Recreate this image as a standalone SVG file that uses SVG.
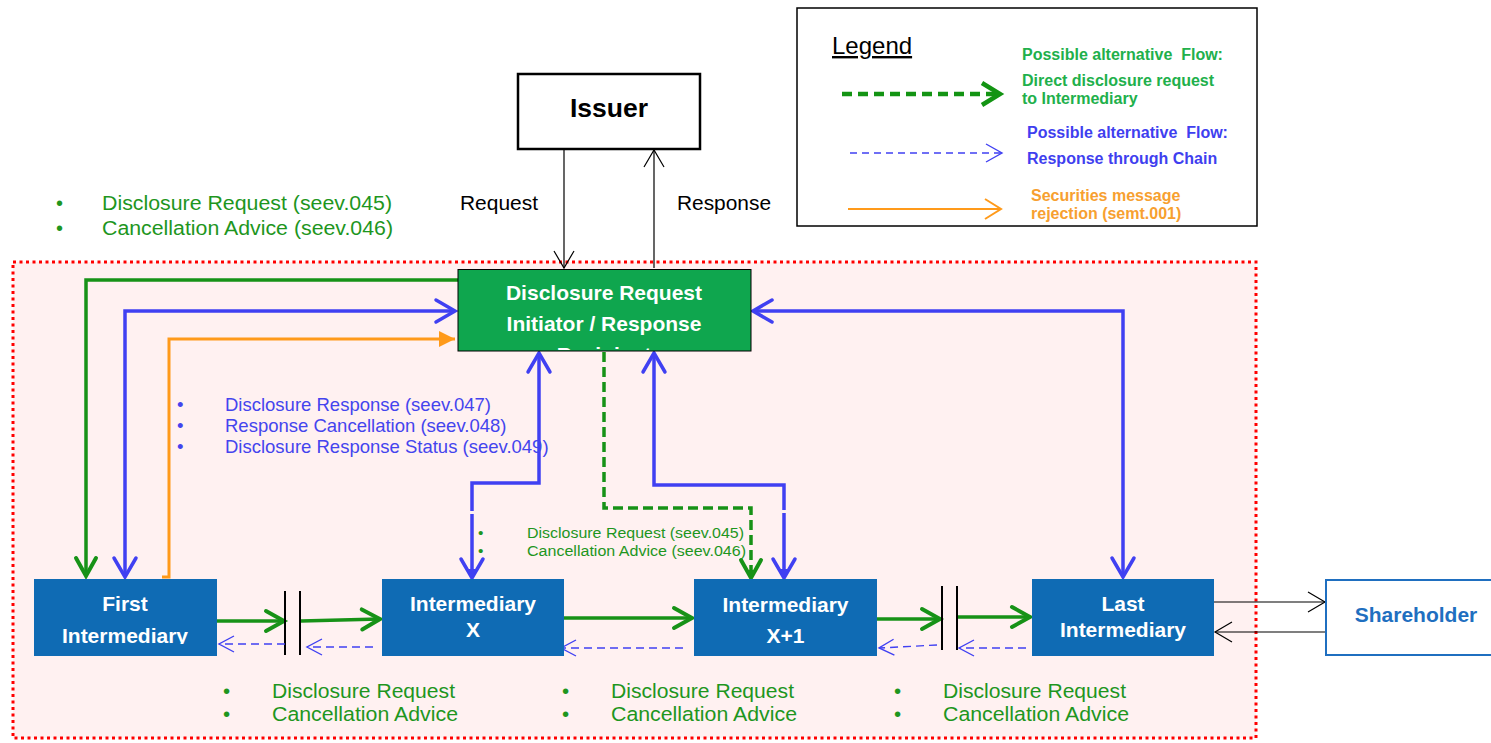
<svg xmlns="http://www.w3.org/2000/svg" width="1491" height="743" viewBox="0 0 1491 743">
<style>
text{font-family:"Liberation Sans",Arial,sans-serif}
.b{font-weight:bold}
.wt{fill:#ffffff;font-weight:bold;font-size:21px;text-anchor:middle}
.gt{fill:#1E961E}
.bt{fill:#4444EE}
.box{fill:#0F6BB4}
.gs{fill:none;stroke:#179217;stroke-width:3.5}
.bs{fill:none;stroke:#4040F2;stroke-width:3.5}
.bd{fill:none;stroke:#4040F2;stroke-width:1.4;stroke-dasharray:8 5}
.ks{fill:none;stroke:#000;stroke-width:1.2}
.bar{fill:none;stroke:#000;stroke-width:2}
</style>
<defs>
<marker id="mG" markerUnits="userSpaceOnUse" markerWidth="1" markerHeight="1" refX="0" refY="0" orient="auto" overflow="visible"><path d="M-18,-10 L0,0 L-18,10" fill="none" stroke="#179217" stroke-width="4" stroke-linecap="round"/></marker>
<marker id="mGT" markerUnits="userSpaceOnUse" markerWidth="1" markerHeight="1" refX="0" refY="0" orient="auto" overflow="visible"><path d="M-18,-10 L0,0 L-18,10" fill="none" stroke="#179217" stroke-width="4" stroke-dasharray="none" stroke-linecap="round"/><path d="M0,0 L-8,-6 L-8,6 Z" fill="#179217"/></marker>
<marker id="mB" markerUnits="userSpaceOnUse" markerWidth="1" markerHeight="1" refX="0" refY="0" orient="auto-start-reverse" overflow="visible"><path d="M-19,-11 L0,0 L-19,11" fill="none" stroke="#4040F2" stroke-width="3.5" stroke-linecap="round"/></marker>
<marker id="mBT" markerUnits="userSpaceOnUse" markerWidth="1" markerHeight="1" refX="0" refY="0" orient="auto-start-reverse" overflow="visible"><path d="M-19,-11 L0,0 L-19,11" fill="none" stroke="#4040F2" stroke-width="3.5" stroke-linecap="round"/><path d="M0,0 L-9,-6 L-9,6 Z" fill="#4040F2"/></marker>
<marker id="mO" markerUnits="userSpaceOnUse" markerWidth="1" markerHeight="1" refX="0" refY="0" orient="auto" overflow="visible"><path d="M0,0 L-16,-8 L-16,8 Z" fill="#FF9A1A"/></marker>
<marker id="mBd" markerUnits="userSpaceOnUse" markerWidth="1" markerHeight="1" refX="0" refY="0" orient="auto" overflow="visible"><path d="M-15,-8 L0,0 L-15,8" fill="none" stroke="#4040F2" stroke-width="1.4" stroke-dasharray="none"/></marker>
<marker id="mK" markerUnits="userSpaceOnUse" markerWidth="1" markerHeight="1" refX="0" refY="0" orient="auto" overflow="visible"><path d="M-17,-10 L0,0 L-17,10" fill="none" stroke="#000" stroke-width="1.2"/></marker>
<marker id="mLG" markerUnits="userSpaceOnUse" markerWidth="1" markerHeight="1" refX="0" refY="0" orient="auto" overflow="visible"><path d="M-18,-11 L0,0 L-18,11" fill="none" stroke="#139413" stroke-width="4.5" stroke-dasharray="none"/></marker>
<marker id="mLB" markerUnits="userSpaceOnUse" markerWidth="1" markerHeight="1" refX="0" refY="0" orient="auto" overflow="visible"><path d="M-16,-9 L0,0 L-16,9" fill="none" stroke="#4040F2" stroke-width="1.4" stroke-dasharray="none"/></marker>
<marker id="mLO" markerUnits="userSpaceOnUse" markerWidth="1" markerHeight="1" refX="0" refY="0" orient="auto" overflow="visible"><path d="M-16,-10 L0,0 L-16,10" fill="none" stroke="#FF9A1A" stroke-width="2"/></marker>
<clipPath id="cInit"><rect x="458" y="269" width="293" height="81"/></clipPath>
<clipPath id="cFirst"><rect x="34" y="579" width="183" height="65"/></clipPath>
</defs>

<rect width="1491" height="743" fill="#ffffff"/>

<g id="legend">
<rect x="797" y="8" width="460" height="218" fill="#ffffff" stroke="#000" stroke-width="1.5"/>
<text x="832" y="54" font-size="24" text-decoration="underline" fill="#000">Legend</text>
<path d="M842,94 H1000" fill="none" stroke="#139413" stroke-width="4.5" stroke-dasharray="10 6" marker-end="url(#mLG)"/>
<text class="b" x="1022" y="60" font-size="16" fill="#21B04B">Possible alternative&#160; Flow:</text>
<text class="b" x="1022" y="86" font-size="16" fill="#21B04B">Direct disclosure request</text>
<text class="b" x="1022" y="104" font-size="16" fill="#21B04B">to Intermediary</text>
<path d="M850,153 H1002" fill="none" stroke="#4040F2" stroke-width="1.4" stroke-dasharray="7 5" marker-end="url(#mLB)"/>
<text class="b" x="1027" y="138" font-size="16" fill="#3F3FEF">Possible alternative&#160; Flow:</text>
<text class="b" x="1027" y="164" font-size="16" fill="#3F3FEF">Response through Chain</text>
<path d="M848,209 H1001" fill="none" stroke="#FF9A1A" stroke-width="2" marker-end="url(#mLO)"/>
<text class="b" x="1031" y="201" font-size="16" fill="#F7A030">Securities message</text>
<text class="b" x="1031" y="219" font-size="16" fill="#F7A030">rejection (semt.001)</text>
</g>

<g id="top-labels">
<text class="gt" x="56" y="210" font-size="20">•</text>
<text class="gt" x="102" y="210" font-size="20" textLength="290" lengthAdjust="spacingAndGlyphs">Disclosure Request (seev.045)</text>
<text class="gt" x="56" y="235" font-size="20">•</text>
<text class="gt" x="102" y="235" font-size="20" textLength="291" lengthAdjust="spacingAndGlyphs">Cancellation Advice (seev.046)</text>
<text x="460" y="210" font-size="20" fill="#000" textLength="78" lengthAdjust="spacingAndGlyphs">Request</text>
<text x="677" y="210" font-size="20" fill="#000" textLength="94" lengthAdjust="spacingAndGlyphs">Response</text>
</g>

<g id="zone">
<rect x="13" y="262" width="1243" height="476" fill="#FFF1F1" stroke="#FF0000" stroke-width="3" stroke-dasharray="3 3.5"/>
</g>

<g id="issuer">
<rect x="518" y="74" width="182" height="75" fill="#ffffff" stroke="#000" stroke-width="2.5"/>
<text class="b" x="609" y="117" font-size="26.5" text-anchor="middle" fill="#000">Issuer</text>
</g>

<g id="connectors">
<path class="ks" d="M564,149 V268" marker-end="url(#mK)"/>
<path class="ks" d="M654,268 V150" marker-end="url(#mK)"/>
<path class="gs" d="M458,280 H86 V576" marker-end="url(#mG)"/>
<path class="bs" d="M125,577 V311 H455" marker-start="url(#mB)" marker-end="url(#mB)"/>
<path fill="none" stroke="#FF9A1A" stroke-width="3" d="M162,577 H169 V339 H455" marker-end="url(#mO)"/>
<path class="bs" d="M539,353 V483 H472 V511 M472,514 V578" marker-start="url(#mB)" marker-end="url(#mBT)"/>
<path class="bs" d="M654,353 V485 H784 V510 M784,513 V578" marker-start="url(#mB)" marker-end="url(#mBT)"/>
<path fill="none" stroke="#179217" stroke-width="3.5" stroke-dasharray="10 5" d="M604,352 V508 H751 V578" marker-end="url(#mGT)"/>
<path class="bs" d="M753,311 H1123 V577" marker-start="url(#mB)" marker-end="url(#mB)"/>

<path class="gs" d="M217,621 H284" marker-end="url(#mG)"/>
<path class="gs" d="M301,621 L380,619" marker-end="url(#mG)"/>
<path class="gs" d="M564,618 H692" marker-end="url(#mG)"/>
<path class="gs" d="M876,619 L940,619" marker-end="url(#mG)"/>
<path class="gs" d="M958,617 H1030" marker-end="url(#mG)"/>
<path class="bar" d="M285,591 V655 M300,591 V655 M942,586 V650 M957,586 V650"/>
<path class="bd" d="M285,644 H219" marker-end="url(#mBd)"/>
<path class="bd" d="M373,647 H307" marker-end="url(#mBd)"/>
<path class="bd" d="M683,648 H561" marker-end="url(#mBd)"/>
<path class="bd" d="M937,645 L879,648" marker-end="url(#mBd)"/>
<path class="bd" d="M1026,648 H959" marker-end="url(#mBd)"/>
<path class="ks" d="M1214,602 H1325" marker-end="url(#mK)"/>
<path class="ks" d="M1325,632 H1215" marker-end="url(#mK)"/>
</g>

<g id="initiator">
<rect x="458" y="269.5" width="293" height="81.5" fill="#0FA64E" stroke="#000" stroke-width="1"/>
<g clip-path="url(#cInit)">
<text class="wt" x="604" y="300">Disclosure Request</text>
<text class="wt" x="604" y="331">Initiator / Response</text>
<text class="wt" x="604" y="362">Recipient</text>
</g>
</g>

<g id="response-labels">
<text class="bt" x="177" y="411" font-size="18.5">•</text>
<text class="bt" x="225" y="411" font-size="18.5">Disclosure Response (seev.047)</text>
<text class="bt" x="177" y="432" font-size="18.5">•</text>
<text class="bt" x="225" y="432" font-size="18.5">Response Cancellation (seev.048)</text>
<text class="bt" x="177" y="453" font-size="18.5">•</text>
<text class="bt" x="225" y="453" font-size="18.5">Disclosure Response Status (seev.049)</text>
</g>

<g id="direct-labels">
<text class="gt" x="478" y="538" font-size="15.5">•</text>
<text class="gt" x="527" y="538" font-size="15.5" textLength="217" lengthAdjust="spacingAndGlyphs">Disclosure Request (seev.045)</text>
<text class="gt" x="478" y="556" font-size="15.5">•</text>
<text class="gt" x="527" y="556" font-size="15.5" textLength="219" lengthAdjust="spacingAndGlyphs">Cancellation Advice (seev.046)</text>
</g>

<g id="first-intermediary">
<rect class="box" x="34" y="579" width="183" height="77"/>
<g clip-path="url(#cFirst)">
<text class="wt" x="125" y="611">First</text>
<text class="wt" x="125" y="643">Intermediary</text>
</g>
</g>

<g id="intermediary-x">
<rect class="box" x="382" y="579" width="182" height="77"/>
<text class="wt" x="473" y="611">Intermediary</text>
<text class="wt" x="473" y="637">X</text>
</g>

<g id="intermediary-x1">
<rect class="box" x="694" y="579" width="183" height="77"/>
<text class="wt" x="785.5" y="612">Intermediary</text>
<text class="wt" x="785.5" y="643">X+1</text>
</g>

<g id="last-intermediary">
<rect class="box" x="1032" y="579" width="182" height="77"/>
<text class="wt" x="1123" y="611">Last</text>
<text class="wt" x="1123" y="637">Intermediary</text>
</g>

<g id="shareholder">
<rect x="1326" y="580" width="170" height="75" fill="#ffffff" stroke="#1F6FC0" stroke-width="2"/>
<text class="b" x="1416" y="622" font-size="21" text-anchor="middle" fill="#1F6FC0">Shareholder</text>
</g>

<g id="bottom-labels">
<text class="gt" x="223" y="698" font-size="20.5">•</text>
<text class="gt" x="272" y="698" font-size="20.5" textLength="183" lengthAdjust="spacingAndGlyphs">Disclosure Request</text>
<text class="gt" x="223" y="721" font-size="20.5">•</text>
<text class="gt" x="272" y="721" font-size="20.5" textLength="186" lengthAdjust="spacingAndGlyphs">Cancellation Advice</text>
<text class="gt" x="562" y="698" font-size="20.5">•</text>
<text class="gt" x="611" y="698" font-size="20.5" textLength="183" lengthAdjust="spacingAndGlyphs">Disclosure Request</text>
<text class="gt" x="562" y="721" font-size="20.5">•</text>
<text class="gt" x="611" y="721" font-size="20.5" textLength="186" lengthAdjust="spacingAndGlyphs">Cancellation Advice</text>
<text class="gt" x="894" y="698" font-size="20.5">•</text>
<text class="gt" x="943" y="698" font-size="20.5" textLength="183" lengthAdjust="spacingAndGlyphs">Disclosure Request</text>
<text class="gt" x="894" y="721" font-size="20.5">•</text>
<text class="gt" x="943" y="721" font-size="20.5" textLength="186" lengthAdjust="spacingAndGlyphs">Cancellation Advice</text>
</g>
</svg>
